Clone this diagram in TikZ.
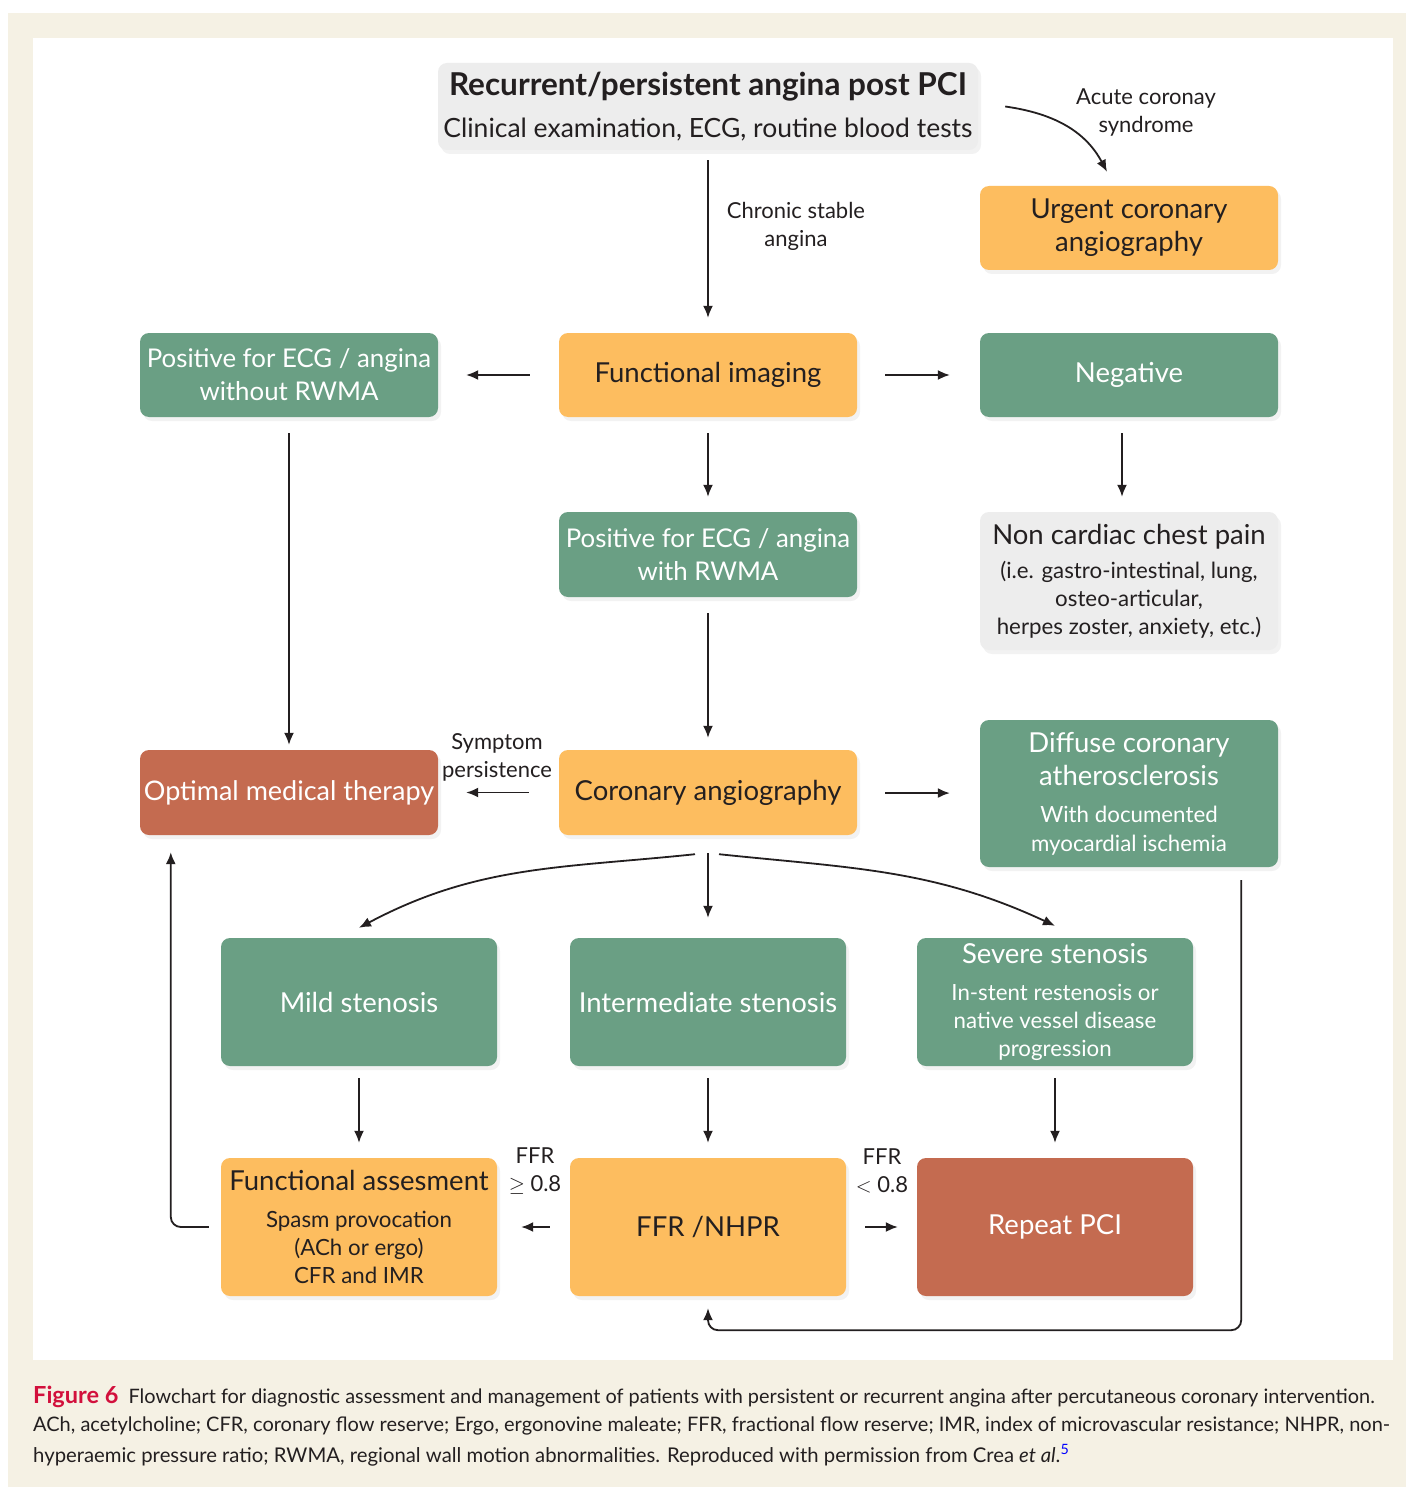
\documentclass[tikz,border=0pt]{standalone}
\usepackage{fontspec}
\setmainfont{Lato}
\usetikzlibrary{arrows.meta}
\usetikzlibrary{shadows}

\definecolor{ink}{HTML}{231F20}
\definecolor{boxorange}{HTML}{FDBD5F}
\definecolor{boxgreen}{HTML}{6A9F84}
\definecolor{boxred}{HTML}{C46B50}
\definecolor{boxgray}{HTML}{EDEDED}
\definecolor{paper}{HTML}{F5F1E4}
\definecolor{figred}{HTML}{D2103C}
\newcommand{\subtxt}{\fontsize{22.3}{28}\selectfont}

\begin{document}
\begin{tikzpicture}[x=1pt,y=-1pt,
    box/.style={rounded corners=9pt, minimum width=298pt, minimum height=84pt, align=center, inner sep=0pt,
      font=\fontsize{27.5}{33}\selectfont, drop shadow={shadow xshift=3pt,shadow yshift=-4pt,opacity=0.10}},
    orangebox/.style={box, fill=boxorange, text=ink},
    greenbox/.style={box, fill=boxgreen, text=white},
    redbox/.style={box, fill=boxred, text=white},
    graybox/.style={box, fill=boxgray, text=ink},
    arr/.style={line width=1.8pt, draw=ink, -{Latex[length=12pt,width=10pt]}},
    lbl/.style={align=center, text=ink, font=\fontsize{22}{28}\selectfont}]

        \useasboundingbox (0,0) rectangle (1406,1487);
        \fill[paper] (8,13) rectangle (1406,1487);
        \fill[white] (33,38) rectangle (1393,1360);

        % top row
        \node [graybox, minimum width=540pt, minimum height=87pt] (top) at (708,106.5)
          {\bfseries\fontsize{31.5}{34}\selectfont Recurrent/persistent angina post PCI\\[9pt]
           \fontsize{26.5}{30}\selectfont Clinical examination, ECG, routine blood tests};
        \node [orangebox] (urgent) at (1129,228) {Urgent coronary\\angiography};

        % imaging row
        \node [orangebox] (fimg) at (708,375) {Functional imaging};
        \node [greenbox, font=\fontsize{25.8}{33}\selectfont] (posno) at (289,375) {Positive for ECG / angina\\without RWMA};
        \node [greenbox] (neg) at (1129,375) {Negative};
        \node [greenbox, minimum height=85pt, font=\fontsize{25.8}{33}\selectfont] (poswith) at (708,554.5) {Positive for ECG / angina\\with RWMA};
        \node [graybox, minimum height=138pt] (noncard) at (1129,581)
          {Non cardiac chest pain\\[1pt]
           \subtxt (i.e. gastro-intestinal, lung,\\[-5pt]\subtxt osteo-articular,\\[-5pt]\subtxt herpes zoster, anxiety, etc.)};

        % angiography row
        \node [redbox, minimum height=85pt, font=\fontsize{27}{33}\selectfont] (omt) at (289,792.5) {Optimal medical therapy};
        \node [orangebox, minimum height=85pt] (cangio) at (708,792.5) {Coronary angiography};
        \node [greenbox, minimum height=147pt] (diffuse) at (1129,793.5)
          {Diffuse coronary\\atherosclerosis\\[4pt]
           \subtxt With documented\\[-4pt]\subtxt myocardial ischemia};

        % stenosis row
        \node [greenbox, minimum width=276pt, minimum height=128pt] (mild) at (359,1002) {Mild stenosis};
        \node [greenbox, minimum width=276pt, minimum height=128pt] (inter) at (708,1002) {Intermediate stenosis};
        \node [greenbox, minimum width=276pt, minimum height=128pt] (severe) at (1055,1002)
          {Severe stenosis\\[4pt]
           \subtxt In-stent restenosis or\\[-5pt]\subtxt native vessel disease\\[-5pt]\subtxt progression};

        % bottom row
        \node [orangebox, minimum width=276pt, minimum height=138pt] (fassess) at (359,1227)
          {Functional assesment\\[4pt]
           \subtxt Spasm provocation\\[-5pt]\subtxt (ACh or ergo)\\[-5pt]\subtxt CFR and IMR};
        \node [orangebox, minimum width=276pt, minimum height=138pt] (ffr) at (708,1227) {FFR /NHPR};
        \node [redbox, minimum width=276pt, minimum height=138pt] (pci) at (1055,1227) {Repeat PCI};

        % labels
        \node [lbl] (lchronic) at (796,226) {Chronic stable\\angina};
        \node [lbl] (lacute) at (1146,113) {Acute coronay\\syndrome};
        \node [lbl] (lsympt) at (497,757) {Symptom\\persistence};
        \node [lbl] (lffrge) at (535,1171) {FFR\\$\geq$ 0.8};
        \node [lbl] (lffrlt) at (882,1171) {FFR\\$<$ 0.8};

        % connectors
        \draw[arr, shorten <=10pt, shorten >=15pt] (top) -- (fimg);
        \draw[arr] ([xshift=27pt]top.east) to[out=-8, in=118] ([xshift=-22pt,yshift=14pt]urgent.north);
        \draw[arr, shorten <=29pt, shorten >=28pt] (fimg) -- (posno);
        \draw[arr, shorten <=28pt, shorten >=30pt] (fimg) -- (neg);
        \draw[arr, shorten <=16pt, shorten >=15pt] (fimg) -- (poswith);
        \draw[arr, shorten <=16pt, shorten >=15pt] ([xshift=-7pt]neg.south) -- ([xshift=-7pt]noncard.north);
        \draw[arr, shorten <=16pt, shorten >=5pt] (posno) -- (omt);
        \draw[arr, shorten <=16pt, shorten >=12pt] (poswith) -- (cangio);
        \draw[arr, shorten <=30pt, shorten >=28pt] (cangio) -- (omt);
        \draw[arr, shorten <=28pt, shorten >=30pt] (cangio) -- (diffuse);
        \draw[arr, shorten <=18pt, shorten >=20pt] (cangio) -- (inter);
        \draw[arr] ([xshift=-13pt,yshift=-19pt]cangio.south) to[out=186, in=28] ([yshift=10pt]mild.north);
        \draw[arr] ([xshift=11pt,yshift=-19pt]cangio.south) to[out=-6, in=155] ([yshift=12pt]severe.north);
        \draw[arr, shorten <=12pt, shorten >=15pt] (mild) -- (fassess);
        \draw[arr, shorten <=12pt, shorten >=15pt] (inter) -- (ffr);
        \draw[arr, shorten <=12pt, shorten >=15pt] (severe) -- (pci);
        \draw[arr, shorten <=20pt, shorten >=24pt] (ffr) -- (fassess);
        \draw[arr, shorten <=19pt, shorten >=19pt] (ffr) -- (pci);
        \draw[arr, rounded corners=10pt] ([xshift=-12pt]fassess.west) -| ([xshift=31pt,yshift=-17pt]omt.south west);
        \draw[arr, rounded corners=10pt] ([xshift=-37pt,yshift=-13pt]diffuse.south east) |- ([yshift=-34pt]ffr.south) -- ([yshift=-12pt]ffr.south);

        % caption
        \node [anchor=west, inner sep=0pt, text=ink, font=\fontsize{19.9}{29}\selectfont] (cap1) at (33,1397)
          {{\bfseries\fontsize{23.5}{29}\selectfont\color{figred}Figure 6}\ \ Flowchart for diagnostic assessment and management of patients with persistent or recurrent angina after percutaneous coronary intervention.};
        \node [anchor=west, inner sep=0pt, text=ink, font=\fontsize{20}{29}\selectfont] (cap2) at (33,1426)
          {ACh, acetylcholine; CFR, coronary flow reserve; Ergo, ergonovine maleate; FFR, fractional flow reserve; IMR, index of microvascular resistance; NHPR, non-};
        \node [anchor=west, inner sep=0pt, text=ink, font=\fontsize{20.3}{29}\selectfont] (cap3) at (33,1455)
          {hyperaemic pressure ratio; RWMA, regional wall motion abnormalities. Reproduced with permission from Crea \textit{et al}.\textsuperscript{\color{blue}5}};

      \end{tikzpicture}
\end{document}
